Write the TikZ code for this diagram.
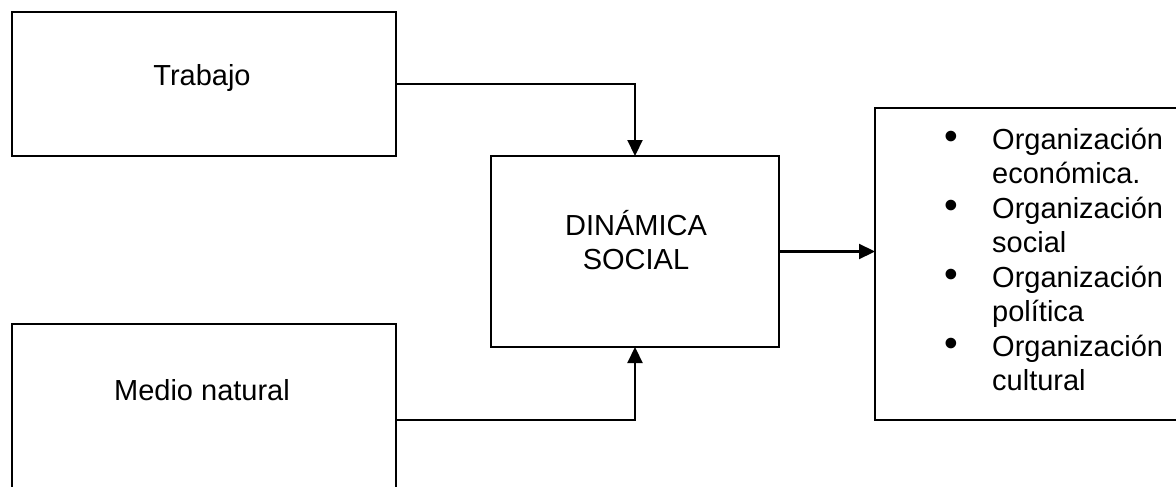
\documentclass[tikz,border=0pt]{standalone}
\usepackage{fontspec}
\setmainfont{Liberation Sans}
\usetikzlibrary{arrows.meta}
\newcommand{\bigbul}{\llap{\makebox[82pt][c]{\raisebox{-0.6pt}{\scalebox{1.35}{\textbullet}}}}}
\begin{document}
\begin{tikzpicture}[x=1pt,y=-1pt,
  boxed/.style={draw, line width=2.2pt, inner sep=0pt, outer sep=0pt},
  lbl/.style={font=\fontsize{29}{34.5}\selectfont, inner sep=0pt, align=center},
  conn/.style={line width=2.2pt, -{Triangle[length=16pt,width=15pt]}}]
\useasboundingbox (0,0) rectangle (1176,487);
\clip (0,0) rectangle (1176,487);
\node[boxed, minimum width=384pt, minimum height=144pt] (trab) at (204,84) {};
\node[lbl] (trabT) at (202,78) {Trabajo};
\node[boxed, minimum width=384pt, minimum height=236pt] (medio) at (204,442) {};
\node[lbl] (medioT) at (202,390) {Medio natural};
\node[boxed, minimum width=288pt, minimum height=191pt] (dyn) at (635,251.5) {};
\node[lbl] (dynT) at (636,240) {DINÁMICA\\SOCIAL};
\node[boxed, minimum width=385pt, minimum height=312pt] (rb) at (1067.5,264) {};
\node[lbl, anchor=north west, align=left] (rbT) at (992,125) {%
\begin{tabular}{@{}l@{}}
\bigbul Organización\\
económica.\\
\bigbul Organización\\
social\\
\bigbul Organización\\
política\\
\bigbul Organización\\
cultural
\end{tabular}};
\coordinate (mout) at (396,420);
\draw[conn] (trab.east) -| (dyn.north);
\draw[line width=2.2pt] (medio.east |- mout) -- (mout);
\draw[conn] (mout) -| (dyn.south);
\draw[conn] (dyn.east) -- (rb.west |- dyn.east);
\end{tikzpicture}
\end{document}
